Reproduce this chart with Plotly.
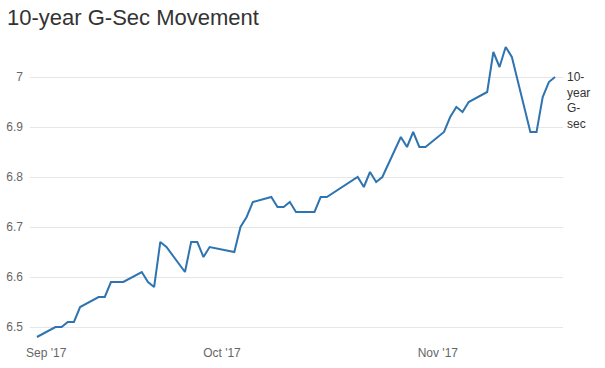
import plotly.graph_objects as go

dates = [
    "2017-09-01",
    "2017-09-04", "2017-09-05", "2017-09-06", "2017-09-07", "2017-09-08",
    "2017-09-11", "2017-09-12", "2017-09-13", "2017-09-14", "2017-09-15",
    "2017-09-18", "2017-09-19", "2017-09-20", "2017-09-21", "2017-09-22",
    "2017-09-25", "2017-09-26", "2017-09-27", "2017-09-28", "2017-09-29",
    "2017-10-03", "2017-10-04", "2017-10-05", "2017-10-06",
    "2017-10-09", "2017-10-10", "2017-10-11", "2017-10-12", "2017-10-13",
    "2017-10-16", "2017-10-17", "2017-10-18",
    "2017-10-23", "2017-10-24", "2017-10-25", "2017-10-26", "2017-10-27",
    "2017-10-30", "2017-10-31", "2017-11-01", "2017-11-02", "2017-11-03",
    "2017-11-06", "2017-11-07", "2017-11-08", "2017-11-09", "2017-11-10",
    "2017-11-13", "2017-11-14", "2017-11-15", "2017-11-16", "2017-11-17",
    "2017-11-20", "2017-11-21", "2017-11-22", "2017-11-23", "2017-11-24",
]
yields = [
    6.48,
    6.50, 6.50, 6.51, 6.51, 6.54,
    6.56, 6.56, 6.59, 6.59, 6.59,
    6.61, 6.59, 6.58, 6.67, 6.66,
    6.61, 6.67, 6.67, 6.64, 6.66,
    6.65, 6.70, 6.72, 6.75,
    6.76, 6.74, 6.74, 6.75, 6.73,
    6.73, 6.76, 6.76,
    6.80, 6.78, 6.81, 6.79, 6.80,
    6.88, 6.86, 6.89, 6.86, 6.86,
    6.89, 6.92, 6.94, 6.93, 6.95,
    6.97, 7.05, 7.02, 7.06, 7.04,
    6.89, 6.89, 6.96, 6.99, 7.00,
]
series_name = "10-year G-sec"
tick_dates = ["2017-09-02 12:00", "2017-10-01", "2017-11-05"]
tick_labels = ["Sep '17", "Oct '17", "Nov '17"]
y_ticks = [6.5, 6.6, 6.7, 6.8, 6.9, 7.0]
y_tick_labels = ["6.5", "6.6", "6.7", "6.8", "6.9", "7"]

W, H = 605, 368
fig = go.Figure()
fig.add_trace(go.Scatter(
    x=dates, y=yields, mode="lines", name=series_name,
    line=dict(color="#2f74b0", width=2),
    showlegend=False,
))

fig.update_layout(
    width=W, height=H,
    margin=dict(l=30, r=42, t=42, b=28, autoexpand=False),
    paper_bgcolor="white", plot_bgcolor="white",
    font=dict(family="Liberation Sans, Arial, sans-serif", size=12, color="#666666"),
    title=dict(
        text="10-year G-Sec Movement",
        x=7 / W, xref="container", xanchor="left",
        y=1 - 17 / H, yref="container", yanchor="middle",
        font=dict(size=22, color="#333333", family="Liberation Sans, Arial, sans-serif"),
    ),
    xaxis=dict(
        type="date", automargin=False,
        range=["2017-08-30 21:00", "2017-11-25 07:00"],
        tickvals=tick_dates, ticktext=tick_labels,
        showgrid=False, zeroline=False, showline=False,
        ticks="", ticklabelstandoff=4,
        tickfont=dict(size=12, color="#666666"),
    ),
    yaxis=dict(
        automargin=False,
        range=[6.474, 7.07],
        tickvals=y_ticks, ticktext=y_tick_labels,
        showgrid=True, gridcolor="#e6e6e6", gridwidth=1,
        zeroline=False, showline=False,
        ticks="", ticklabelstandoff=6,
        tickfont=dict(size=12, color="#666666"),
    ),
)

fig.add_annotation(
    x=1, xref="paper", xanchor="left", xshift=2,
    y=yields[-1], yref="y", yanchor="top", yshift=9,
    text="10-<br>year<br>G-<br>sec",
    showarrow=False, align="left",
    font=dict(size=12, color="#333333", family="Liberation Sans, Arial, sans-serif"),
)

fig.write_html("out.html")
